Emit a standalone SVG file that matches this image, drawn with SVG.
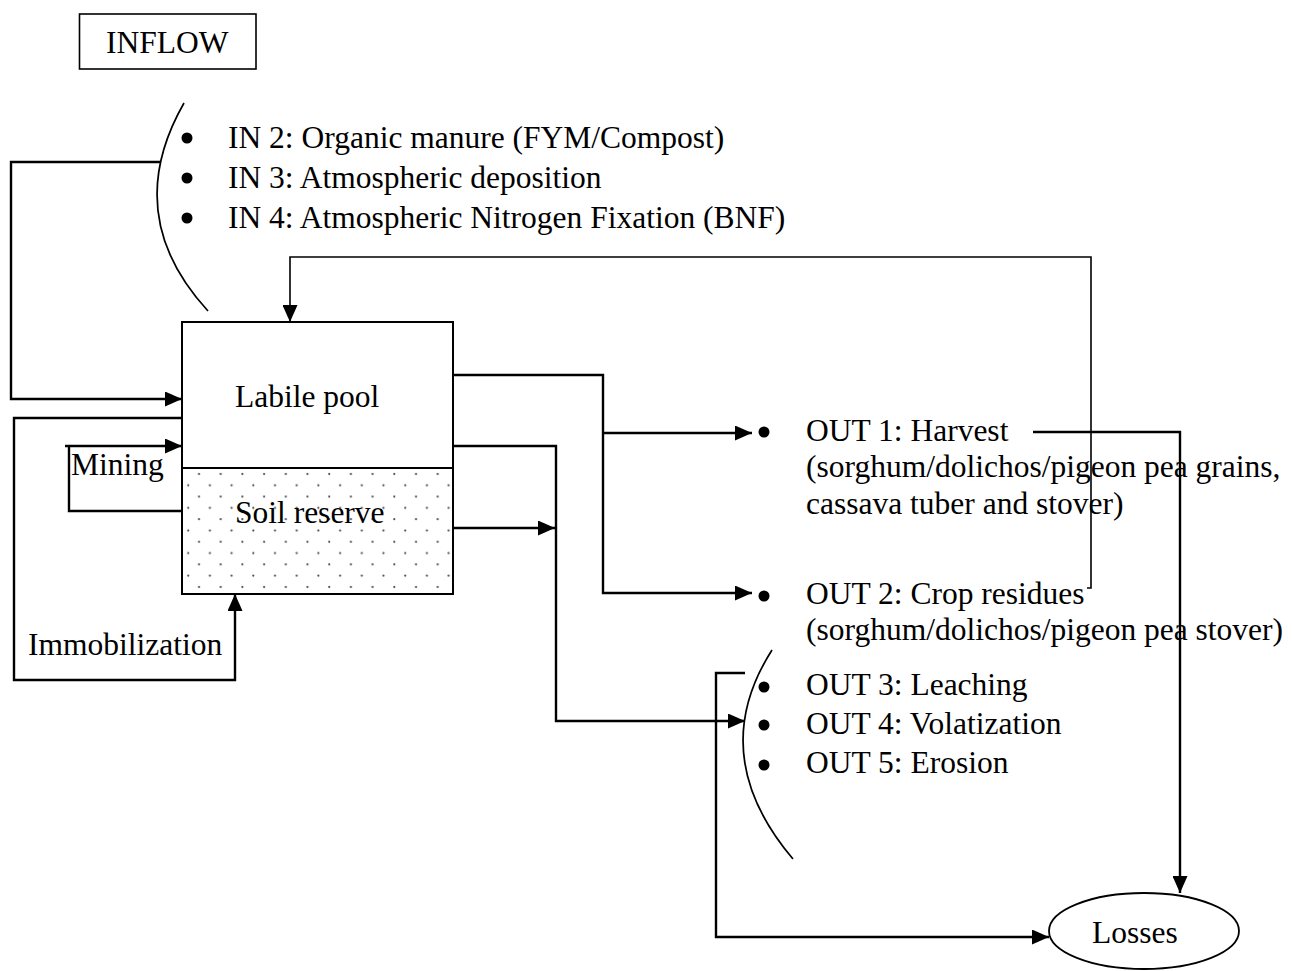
<svg xmlns="http://www.w3.org/2000/svg" width="1292" height="971" viewBox="0 0 1292 971">
<style>
  text { font-family: "Liberation Serif", "Times New Roman", serif; font-size: 31.5px; fill: #000; }
  .box { fill: #fff; stroke: #000; stroke-width: 2; }
  .conn { fill: none; stroke: #000; stroke-width: 2.4; }
  .thin { fill: none; stroke: #000; stroke-width: 1.6; }
  .brace { fill: none; stroke: #000; stroke-width: 1.7; }
  .bul { fill: #000; }
</style>
<defs>
  <marker id="arr" markerUnits="userSpaceOnUse" markerWidth="17" markerHeight="15" refX="17" refY="7.5" orient="auto">
    <path d="M0,0 L17,7.5 L0,15 z" fill="#000"/>
  </marker>
  <pattern id="dots" patternUnits="userSpaceOnUse" x="182" y="468" width="21.7" height="22.6">
    <circle cx="17" cy="6" r="1.1" fill="#444"/>
    <circle cx="6.2" cy="17.3" r="1.1" fill="#444"/>
  </pattern>
</defs>
<rect width="1292" height="971" fill="#fff"/>

<g id="inflow-title">
  <rect x="79.5" y="14" width="176.5" height="55" fill="#fff" stroke="#000" stroke-width="1.6"/>
  <text x="106" y="53">INFLOW</text>
</g>

<g id="inflow-list">
  <path class="brace" d="M184,103 Q120,215 208,311"/>
  <circle class="bul" cx="187" cy="138" r="5.5"/>
  <circle class="bul" cx="187" cy="178" r="5.5"/>
  <circle class="bul" cx="187" cy="218" r="5.5"/>
  <text x="228" y="148">IN 2: Organic manure (FYM/Compost)</text>
  <text x="228" y="188">IN 3: Atmospheric deposition</text>
  <text x="228" y="228">IN 4: Atmospheric Nitrogen Fixation (BNF)</text>
</g>

<g id="labile-pool">
  <rect class="box" x="182" y="322" width="271" height="146"/>
  <text x="235" y="407">Labile pool</text>
</g>

<g id="soil-reserve">
  <rect x="182" y="468" width="271" height="126" fill="url(#dots)" stroke="#000" stroke-width="2"/>
  <text x="235" y="523">Soil reserve</text>
</g>

<g id="mining-label">
  <text x="71" y="475">Mining</text>
</g>

<g id="immobilization-label">
  <text x="28" y="655">Immobilization</text>
</g>

<g id="out-harvest">
  <circle class="bul" cx="764" cy="432" r="5.5"/>
  <text x="806" y="441">OUT 1: Harvest</text>
  <text x="806" y="477">(sorghum/dolichos/pigeon pea grains,</text>
  <text x="806" y="514">cassava tuber and stover)</text>
</g>

<g id="out-residues">
  <circle class="bul" cx="764" cy="596" r="5.5"/>
  <text x="806" y="604">OUT 2: Crop residues</text>
  <text x="806" y="640">(sorghum/dolichos/pigeon pea stover)</text>
</g>

<g id="out-losses-list">
  <path class="brace" d="M772,650 Q705,755 793,859"/>
  <circle class="bul" cx="764" cy="687" r="5.5"/>
  <circle class="bul" cx="764" cy="725" r="5.5"/>
  <circle class="bul" cx="764" cy="765" r="5.5"/>
  <text x="806" y="695">OUT 3: Leaching</text>
  <text x="806" y="734">OUT 4: Volatization</text>
  <text x="806" y="773">OUT 5: Erosion</text>
</g>

<g id="losses">
  <ellipse cx="1144" cy="931" rx="95" ry="38" fill="#fff" stroke="#000" stroke-width="1.8"/>
  <text x="1092" y="943">Losses</text>
</g>

<g id="connectors">
  <path class="conn" d="M160,162 H11 V399 H182" marker-end="url(#arr)"/>
  <path class="conn" d="M182,418 H14 V680 H235 V594" marker-end="url(#arr)"/>
  <path class="conn" d="M182,511 H69 V446"/>
  <path class="conn" d="M65,446 H182" marker-end="url(#arr)"/>
  <path class="conn" d="M453,375 H603 V593 H752" marker-end="url(#arr)"/>
  <path class="conn" d="M603,433 H752" marker-end="url(#arr)"/>
  <path class="conn" d="M453,446 H556 V721 H745" marker-end="url(#arr)"/>
  <path class="conn" d="M453,528 H555" marker-end="url(#arr)"/>
  <path class="thin" d="M1087,588 H1091 V257 H290 V322" marker-end="url(#arr)"/>
  <path class="conn" d="M1033,432 H1180 V893" marker-end="url(#arr)"/>
  <path class="conn" d="M745,673 H716 V937 H1049" marker-end="url(#arr)"/>
</g>
</svg>
